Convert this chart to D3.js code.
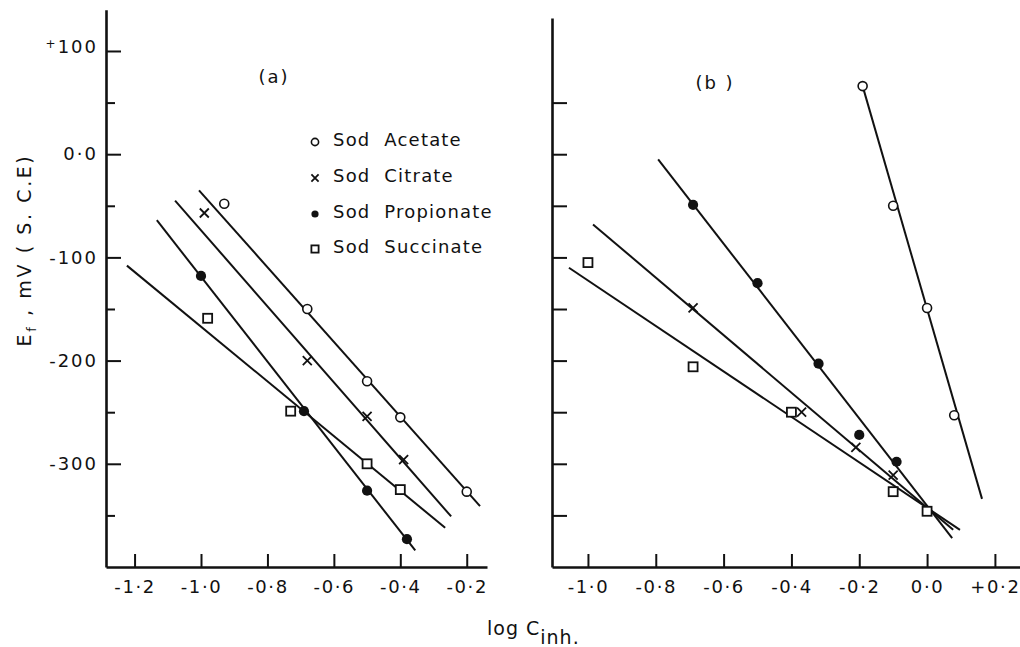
<!DOCTYPE html>
<html>
<head>
<meta charset="utf-8">
<script src="https://cdn.jsdelivr.net/npm/d3@7"></script>
<style>
  body { margin: 0; background: #fff; }
  text { font-family: "DejaVu Sans", sans-serif; fill: #111; }
</style>
</head>
<body>
<div id="chart"></div>
<script>
// size of the picture
var width = 1020
var height = 647

// legend / series names
var seriesNames = ["Sod Acetate", "Sod Citrate", "Sod Propionate", "Sod Succinate"];
var markerTypes = ["circle", "cross", "dot", "square"];

// tick labels
var xTicksA = [-1.2, -1.0, -0.8, -0.6, -0.4, -0.2];
var xTicksB = [-1.0, -0.8, -0.6, -0.4, -0.2, 0.0, 0.2];
var yMajorA = [100, 0, -100, -200, -300];
var yMinorA = [50, -50, -150, -250, -350];
var yTicksB = [50, 0, -50, -100, -150, -200, -250, -300, -350];

// panel (a) measured points: log C (x) and Ef in mV (y)
var aAcetateX = [-0.93, -0.68, -0.50, -0.40, -0.20];
var aAcetateY = [-48, -150, -220, -255, -327];
var aCitrateX = [-0.99, -0.68, -0.50, -0.39];
var aCitrateY = [-57, -200, -254, -296];
var aPropionateX = [-1.00, -0.69, -0.50, -0.38];
var aPropionateY = [-118, -249, -326, -373];
var aSuccinateX = [-0.98, -0.73, -0.50, -0.40];
var aSuccinateY = [-159, -249, -300, -325];

// panel (a) drawn straight lines, [x, y] end points
var aAcetateLine = [[-1.006, -35], [-0.16, -341]];
var aCitrateLine = [[-1.078, -45], [-0.247, -351]];
var aPropionateLine = [[-1.133, -64], [-0.355, -384]];
var aSuccinateLine = [[-1.223, -108], [-0.265, -362]];

// panel (b) measured points
var bAcetateX = [-0.19, -0.10, 0.00, 0.08];
var bAcetateY = [66, -50, -149, -253];
var bCitrateX = [-0.69, -0.37, -0.21, -0.10];
var bCitrateY = [-149, -250, -284, -311];
var bPropionateX = [-0.69, -0.50, -0.32, -0.20, -0.09];
var bPropionateY = [-49, -125, -203, -272, -298];
var bSuccinateX = [-1.00, -0.69, -0.40, -0.10, 0.00];
var bSuccinateY = [-105, -206, -250, -327, -346];

// panel (b) drawn lines
var bAcetateLine = [[-0.19, 66], [0.162, -334]];
var bCitrateLine = [[-0.985, -68], [0.077, -364]];
var bPropionateLine = [[-0.793, -5], [0.074, -372]];
var bSuccinateLine = [[-1.056, -110], [0.097, -364]];

var svg = d3.select("#chart")
  .append("svg")
  .attr("width", width)
  .attr("height", height);

// the two panels share the same mV-to-pixel mapping
var xA = d3.scaleLinear().domain([-1.286, -0.139]).range([106, 487]);
var yA = d3.scaleLinear().domain([-400, 140]).range([567, 9.7]);
var xB = d3.scaleLinear().domain([-1.106, 0.274]).range([552, 1020]);
var yB = d3.scaleLinear().domain([-400, 132]).range([567, 18]);

function fmt(d) {
  var s = Math.abs(d).toFixed(1).replace(".", "\u00b7");
  if (d < 0) return "-" + s;
  if (d > 0) return "+" + s;
  return s;
}

function styleAxis(g) {
  g.select(".domain").attr("stroke", "#111").attr("stroke-width", 2.6);
  g.selectAll(".tick line").attr("stroke", "#111").attr("stroke-width", 2);
  g.selectAll(".tick text").attr("font-size", 18).attr("fill", "#111")
    .attr("letter-spacing", 1.6)
    .attr("font-family", "DejaVu Sans, sans-serif");
}

// ---------- panel (a) axes
var gxA = svg.append("g")
  .attr("transform", "translate(0,567)")
  .call(d3.axisBottom(xA).tickValues(xTicksA).tickFormat(fmt)
    .tickSizeInner(-13).tickSizeOuter(0).tickPadding(13));
styleAxis(gxA);

var gyA = svg.append("g")
  .attr("transform", "translate(106,0)")
  .call(d3.axisLeft(yA).tickValues(yMajorA)
    .tickFormat(function(d) { return d == 0 ? "0\u00b70" : (d < 0 ? "-" + Math.abs(d) : "" + d); })
    .tickSizeInner(-15).tickSizeOuter(0).tickPadding(8));
styleAxis(gyA);
gyA.selectAll(".tick text").attr("letter-spacing", 2);
// small raised plus on +100
gyA.selectAll(".tick text").filter(function(d) { return d > 0; })
  .each(function(d) {
    var t = d3.select(this);
    t.text(null);
    t.append("tspan").attr("font-size", 12).attr("dy", "-0.25em").text("+");
    t.append("tspan").attr("dy", "0.25em").text(d);
  });

var gyA2 = svg.append("g")
  .attr("transform", "translate(106,0)")
  .call(d3.axisLeft(yA).tickValues(yMinorA).tickFormat("")
    .tickSizeInner(-9).tickSizeOuter(0));
gyA2.select(".domain").remove();
styleAxis(gyA2);

// ---------- panel (b) axes
var gxB = svg.append("g")
  .attr("transform", "translate(0,567)")
  .call(d3.axisBottom(xB).tickValues(xTicksB).tickFormat(fmt)
    .tickSizeInner(-13).tickSizeOuter(0).tickPadding(13));
styleAxis(gxB);

var gyB = svg.append("g")
  .attr("transform", "translate(552,0)")
  .call(d3.axisLeft(yB).tickValues(yTicksB).tickFormat("")
    .tickSizeInner(-15).tickSizeOuter(0));
styleAxis(gyB);

// ---------- axis titles
svg.append("text")
  .attr("transform", "translate(31,250) rotate(-90)")
  .attr("text-anchor", "middle")
  .attr("font-size", 19)
  .attr("letter-spacing", 2.6)
  .call(function(t) {
    t.append("tspan").text("E");
    t.append("tspan").attr("font-size", 13).attr("dy", "0.4em").text("f");
    t.append("tspan").attr("dy", "-0.3em").text(" , mV  ( S. C.E)");
  });

svg.append("text")
  .attr("x", 487).attr("y", 635)
  .attr("font-size", 19)
  .attr("letter-spacing", 1)
  .call(function(t) {
    t.append("tspan").text("log C");
    t.append("tspan").attr("dy", "0.45em").text("inh.");
  });

// panel labels
svg.append("text").attr("x", 274).attr("y", 83).attr("text-anchor", "middle")
  .attr("font-size", 18).attr("letter-spacing", 2).text("(a)");
svg.append("text").attr("x", 715).attr("y", 89).attr("text-anchor", "middle")
  .attr("font-size", 18).attr("letter-spacing", 2).text("(b )");

// ---------- marks
function drawMarker(g, type, px, py, s) {
  if (type == "circle") {
    g.append("circle").attr("cx", px).attr("cy", py).attr("r", s)
      .attr("fill", "#fff").attr("stroke", "#111").attr("stroke-width", 1.6);
  } else if (type == "dot") {
    g.append("circle").attr("cx", px).attr("cy", py).attr("r", s + 0.6)
      .attr("fill", "#111");
  } else if (type == "square") {
    g.append("rect").attr("x", px - s).attr("y", py - s)
      .attr("width", 2 * s).attr("height", 2 * s)
      .attr("fill", "#fff").attr("stroke", "#111").attr("stroke-width", 1.8);
  } else {
    g.append("path")
      .attr("d", "M" + (px - s) + "," + (py - s) + "L" + (px + s) + "," + (py + s) +
        "M" + (px - s) + "," + (py + s) + "L" + (px + s) + "," + (py - s))
      .attr("stroke", "#111").attr("stroke-width", 1.8).attr("fill", "none");
  }
}

var line = function(xs, ys) {
  return d3.line().x(function(d) { return xs(d[0]); }).y(function(d) { return ys(d[1]); });
};

function drawPanel(xs, ys, lines, xsets, ysets) {
  var g = svg.append("g");
  lines.forEach(function(l) {
    g.append("path").attr("d", line(xs, ys)(l))
      .attr("fill", "none").attr("stroke", "#111").attr("stroke-width", 2);
  });
  xsets.forEach(function(xv, i) {
    xv.forEach(function(v, j) {
      drawMarker(g, markerTypes[i], xs(v), ys(ysets[i][j]), 4.5);
    });
  });
}

drawPanel(xA, yA,
  [aAcetateLine, aCitrateLine, aPropionateLine, aSuccinateLine],
  [aAcetateX, aCitrateX, aPropionateX, aSuccinateX],
  [aAcetateY, aCitrateY, aPropionateY, aSuccinateY]);

drawPanel(xB, yB,
  [bAcetateLine, bCitrateLine, bPropionateLine, bSuccinateLine],
  [bAcetateX, bCitrateX, bPropionateX, bSuccinateX],
  [bAcetateY, bCitrateY, bPropionateY, bSuccinateY]);

// ---------- legend
var legendY = [140, 176, 212, 247];
var legend = svg.append("g");
seriesNames.forEach(function(name, i) {
  drawMarker(legend, markerTypes[i], 315, legendY[i] + 2, i == 2 ? 3 : 3.6);
  legend.append("text")
    .attr("x", 333).attr("y", legendY[i]).attr("dy", "0.35em")
    .attr("font-size", 18).attr("letter-spacing", 1.2)
    .attr("xml:space", "preserve")
    .text(name.replace(" ", "  "));
});
</script>
</body>
</html>
